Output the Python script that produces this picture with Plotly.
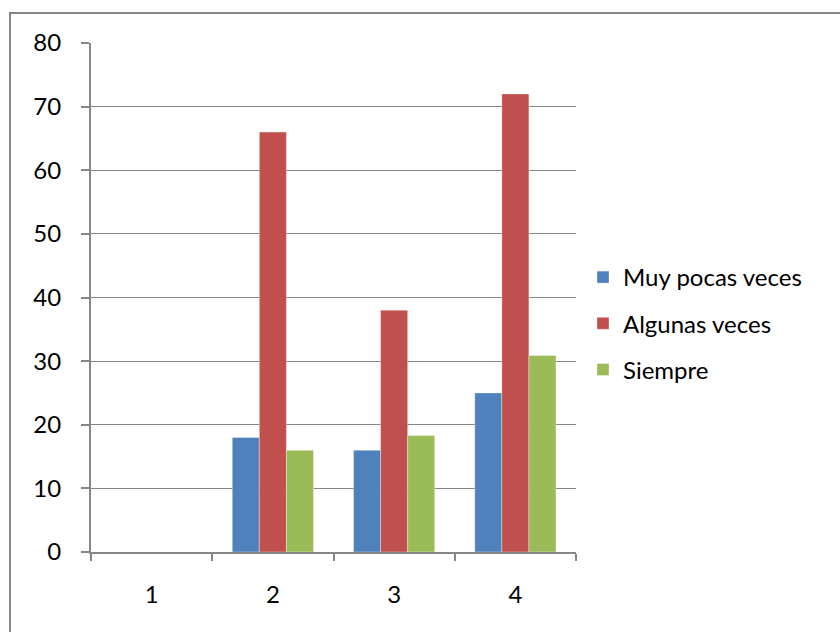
import plotly.graph_objects as go

# Chart data
categories = ["1", "2", "3", "4"]
muy_pocas_veces = [None, 18, 16, 25]
algunas_veces = [None, 66, 38, 72]
siempre = [None, 16, 18.3, 30.9]

series_names = ["Muy pocas veces", "Algunas veces", "Siempre"]
series_colors = ["#4F81BD", "#C0504D", "#9BBB59"]

W, H = 840, 632
ML, MR, MT, MB = 91, 264, 43, 80
PW, PH = W - ML - MR, H - MT - MB
GRAY = "#868686"
FONT = "Lato, Carlito, Calibri, sans-serif"
FSIZE = 24


def px_to_paper_x(px):
    return (px - ML) / PW


def px_to_paper_y(py):
    return (H - MB - py) / PH


fig = go.Figure()
for i, (name, vals, color) in enumerate(
    zip(series_names, [muy_pocas_veces, algunas_veces, siempre], series_colors)
):
    fig.add_trace(
        go.Bar(
            x=categories,
            y=vals,
            name=name,
            legendgroup=f"g{i}",
            marker=dict(color=color, line=dict(color="rgba(255,255,255,0.6)", width=0.6)),
        )
    )

fig.update_layout(
    width=W,
    height=H,
    margin=dict(l=ML, r=MR, t=MT, b=MB, pad=0),
    paper_bgcolor="white",
    plot_bgcolor="white",
    barmode="group",
    bargap=0.33,
    bargroupgap=0,
    font=dict(family=FONT, size=FSIZE, color="#000000"),
    legend=dict(
        x=px_to_paper_x(583),
        y=px_to_paper_y(255),
        xanchor="left",
        yanchor="top",
        font=dict(family=FONT, size=FSIZE, color="#000000"),
        tracegroupgap=12,
        itemwidth=30,
        bgcolor="rgba(0,0,0,0)",
    ),
    xaxis=dict(
        type="category",
        showgrid=False,
        showline=True,
        linecolor=GRAY,
        linewidth=2,
        ticks="outside",
        tickson="boundaries",
        ticklen=7,
        tickwidth=1.5,
        tickcolor=GRAY,
        ticklabelstandoff=20,
        tickfont=dict(family=FONT, size=FSIZE),
    ),
    yaxis=dict(
        range=[0, 80],
        dtick=10,
        showgrid=True,
        gridcolor=GRAY,
        gridwidth=1.3,
        showline=True,
        linecolor=GRAY,
        linewidth=2,
        ticks="outside",
        ticklen=8,
        tickwidth=1.5,
        tickcolor=GRAY,
        ticklabelstandoff=15,
        zeroline=False,
        tickfont=dict(family=FONT, size=FSIZE),
    ),
    shapes=[
        dict(
            type="rect",
            xref="paper",
            yref="paper",
            x0=px_to_paper_x(10),
            x1=px_to_paper_x(W + 20),
            y0=px_to_paper_y(H + 20),
            y1=px_to_paper_y(13),
            line=dict(color=GRAY, width=2),
            fillcolor="rgba(0,0,0,0)",
            layer="below",
        )
    ],
)

fig.write_html("out.html")
